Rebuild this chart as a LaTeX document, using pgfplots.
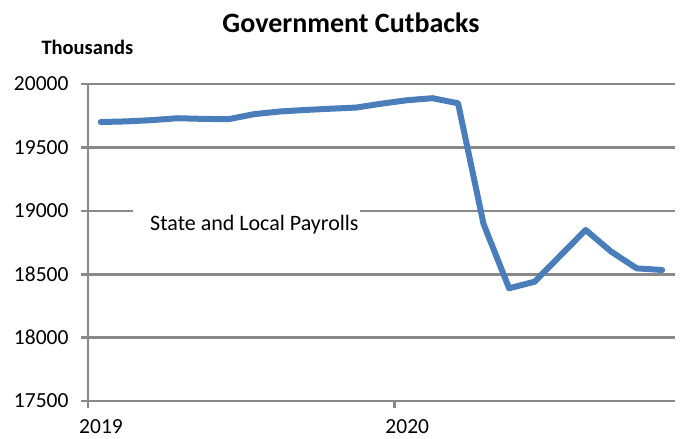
\documentclass[border=0pt]{standalone}
\usepackage{fontspec}
\setmainfont{Carlito}
\usepackage{pgfplots}
\pgfplotsset{compat=1.18}
\definecolor{lineblue}{HTML}{4A7EBB}
\definecolor{gridgrey}{HTML}{898989}
\pgfplotstableread{
x y
0.5 19700
1.5 19705
2.5 19715
3.5 19730
4.5 19725
5.5 19722
6.5 19762
7.5 19783
8.5 19795
9.5 19805
10.5 19814
11.5 19845
12.5 19872
13.5 19888
14.5 19848
15.5 18895
16.5 18389
17.5 18441
18.5 18645
19.5 18849
20.5 18678
21.5 18546
22.5 18533
}\payrolls
\begin{document}
\begin{tikzpicture}
\begin{axis}[
  name=ax,
  scale only axis,
  width=587pt, height=317pt,
  xmin=0, xmax=23,
  ymin=17500, ymax=20000,
  ytick={17500,18000,...,20000},
  scaled y ticks=false,
  xtick={0,12},
  xticklabels={2019,2020},
  axis lines*=left,
  axis line style={gridgrey, line width=2.6pt},
  ymajorgrids,
  grid style={gridgrey, line width=2.6pt},
  tick align=outside,
  major tick length=7pt,
  tick style={gridgrey, line width=2.6pt},
  /pgf/number format/assume math mode=true,
  /pgf/number format/1000 sep={},
  /pgf/number format/fixed,
  ticklabel style={font=\fontsize{21.5}{24}\selectfont, text=black},
  xticklabel style={inner sep=0pt, xshift=13pt, yshift=-11.5pt},
  yticklabel style={xshift=-9pt},
  clip=false,
]
\fill[white] (axis cs:1.78,18955) rectangle (axis cs:10.66,19045);
\node[anchor=base, font=\fontsize{22}{26}\selectfont] at (axis cs:6.52,18847) {State and Local Payrolls};
\addplot[lineblue, line width=6pt, line join=round, line cap=round] table[x=x, y=y] {\payrolls};
\end{axis}
\node[anchor=base, font=\bfseries\fontsize{28}{32}\selectfont] at ([xshift=263pt, yshift=51pt]ax.north west) {Government Cutbacks};
\node[anchor=base west, font=\bfseries\fontsize{20.5}{24}\selectfont] at ([xshift=-50pt, yshift=29pt]ax.north west) {Thousands};
\pgfresetboundingbox
\path[use as bounding box] ([xshift=-88pt, yshift=-38pt]ax.south west) rectangle ([xshift=5pt, yshift=84pt]ax.north east);
\end{tikzpicture}
\end{document}
